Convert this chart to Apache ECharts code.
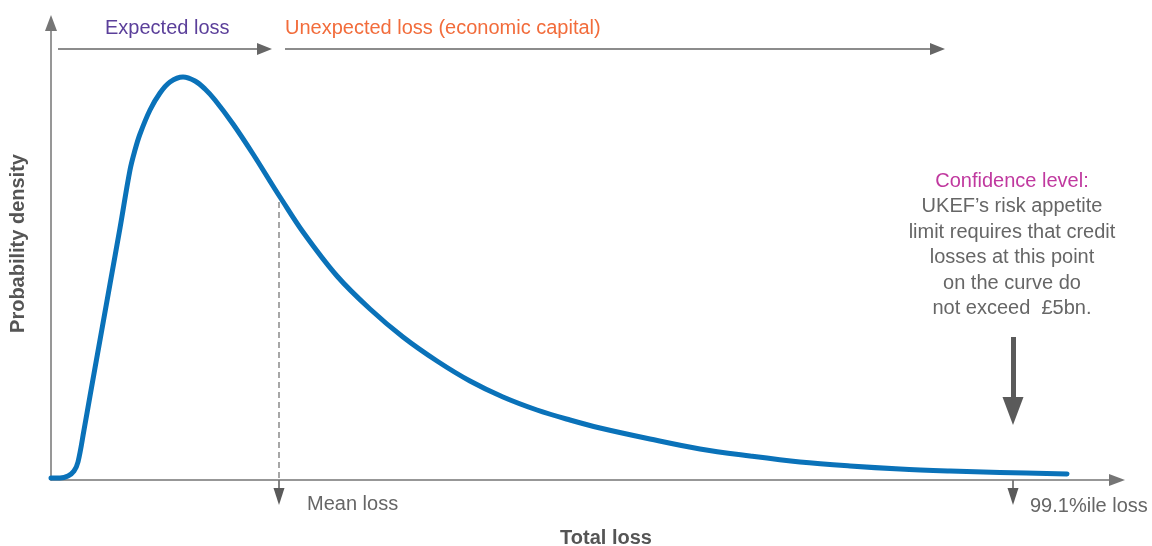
<!DOCTYPE html>
<html>
<head>
<meta charset="utf-8">
<script src="https://cdn.jsdelivr.net/npm/echarts@6/dist/echarts.min.js"></script>
<style>
  html, body { margin: 0; padding: 0; background: #ffffff; }
  #chart { width: 1152px; height: 546px; }
</style>
</head>
<body>
<div id="chart"></div>
<script>
// ---- data (arbitrary loss / density units) ----
const lossValues = [0, 9, 17, 23, 27, 33, 39, 49, 59, 69, 79, 84, 89, 99, 109, 119, 132, 144, 154, 164, 182, 202, 222, 229, 252, 286, 319, 352, 386, 419, 452, 486, 519, 549, 599, 649, 699, 749, 799, 849, 899, 949, 1016];
const densityValues = [2, 2, 4, 9, 18, 50, 84, 140, 196, 252, 310, 330, 346, 370, 387, 398, 403, 399, 391, 380, 356, 326, 294, 283, 248, 204, 171, 143, 119, 99, 83, 70, 60, 52, 41, 31, 24, 18, 14, 11, 9, 7.5, 6];
const meanLoss = 228;
const tailLoss = 962;             // 99.1%ile loss
const meanLossDensityTop = 278;   // where the dashed mean line starts
const expectedLossSpan = [7, 221];
const unexpectedLossSpan = [234, 894];
const spanArrowLevel = 431;
const bigArrowSpan = [143, 55];   // density range of the big pointer arrow (start, tip)
const axisMax = { loss: 1066, density: 457 };

const labels = {
  xName: 'Total loss',
  yName: 'Probability density',
  expected: 'Expected loss',
  unexpected: 'Unexpected loss (economic capital)',
  confTitle: 'Confidence level:',
  confBody: 'UKEF\u2019s risk appetite\nlimit requires that credit\nlosses at this point\non the curve do\nnot exceed  \u00a35bn.',
  mean: 'Mean loss',
  tail: '99.1%ile loss'
};

const FONT = '"Liberation Sans", Arial, Helvetica, sans-serif';
const GREY = '#666666';
const AXIS = '#757575';

const seriesData = lossValues.map((x, i) => [x, densityValues[i]]);

const chart = echarts.init(document.getElementById('chart'), null, { renderer: 'canvas' });

const headTop = [12, 15];
const headBig = [21, 28];

const option = {
  animation: false,
  grid: { left: 51, right: 35, top: 23, bottom: 66, containLabel: false, outerBoundsMode: 'none' },
  xAxis: {
    type: 'value', min: 0, max: axisMax.loss,
    axisLine: { show: true, onZero: true, symbol: ['none', 'triangle'], symbolSize: [12, 16], lineStyle: { color: AXIS, width: 1.5 } },
    axisTick: { show: false }, axisLabel: { show: false }, splitLine: { show: false },
    name: labels.xName, nameLocation: 'middle', nameGap: 48,
    nameTextStyle: { fontFamily: FONT, fontSize: 20, fontWeight: 'bold', color: '#555555', padding: [0, 0, 0, 44] }
  },
  yAxis: {
    type: 'value', min: 0, max: axisMax.density,
    axisLine: { show: true, symbol: ['none', 'triangle'], symbolSize: [12, 16], lineStyle: { color: AXIS, width: 1.5 } },
    axisTick: { show: false }, axisLabel: { show: false }, splitLine: { show: false },
    name: labels.yName, nameLocation: 'middle', nameGap: 23, nameRotate: 90,
    nameTextStyle: { fontFamily: FONT, fontSize: 20, fontWeight: 'bold', color: '#555555', padding: [0, 0, 0, 16] }
  },
  series: [{
    type: 'line',
    data: seriesData,
    smooth: 0.35,
    showSymbol: false,
    symbol: 'none',
    silent: true,
    lineStyle: { color: '#0a72b9', width: 5, cap: 'round', join: 'round' },
    z: 3,
    markLine: {
      silent: true,
      animation: false,
      label: { show: false },
      emphasis: { disabled: true },
      symbol: ['none', 'triangle'],
      data: [
        [
          { coord: [meanLoss, meanLossDensityTop], symbol: 'none', lineStyle: { color: '#8a8a8a', width: 1.5, type: [6, 4] } },
          { coord: [meanLoss, 0], symbol: 'none' }
        ],
        [
          { coord: [expectedLossSpan[0], spanArrowLevel], symbol: 'none', lineStyle: { color: GREY, width: 1.5, type: 'solid' } },
          { coord: [expectedLossSpan[1] - headTop[1] / 2, spanArrowLevel], symbol: 'triangle', symbolSize: headTop }
        ],
        [
          { coord: [unexpectedLossSpan[0], spanArrowLevel], symbol: 'none', lineStyle: { color: GREY, width: 1.5, type: 'solid' } },
          { coord: [unexpectedLossSpan[1] - headTop[1] / 2, spanArrowLevel], symbol: 'triangle', symbolSize: headTop }
        ],
        [
          { coord: [tailLoss, bigArrowSpan[0]], symbol: 'none', lineStyle: { color: '#5a5a5a', width: 5, type: 'solid' } },
          { coord: [tailLoss, bigArrowSpan[1] + headBig[1] / 2], symbol: 'triangle', symbolSize: headBig }
        ]
      ]
    }
  }]
};

chart.setOption(option);

// annotations positioned through the chart's own scales
function px(x, y) { return chart.convertToPixel({ gridIndex: 0 }, [x, y]); }
function downTick(xVal) {
  const p = px(xVal, 0);
  return [
    { type: 'line', silent: true, shape: { x1: p[0], y1: p[1], x2: p[0], y2: p[1] + 10 }, style: { stroke: '#5a5a5a', lineWidth: 1.5 } },
    { type: 'polygon', silent: true, shape: { points: [[p[0] - 5.5, p[1] + 8], [p[0] + 5.5, p[1] + 8], [p[0], p[1] + 25]] }, style: { fill: '#5a5a5a' } }
  ];
}
const pMean = px(meanLoss, 0);
const pTail = px(tailLoss, 0);
const pSpanA = px(expectedLossSpan[0], spanArrowLevel);
const pSpanB = px(unexpectedLossSpan[0], spanArrowLevel);
const pBig = px(tailLoss, bigArrowSpan[0]);

const textBase = { fontFamily: FONT, fontSize: 20 };
chart.setOption({
  graphic: [].concat(
    downTick(meanLoss),
    downTick(tailLoss),
    [
      { type: 'text', silent: true, x: pSpanA[0] + 47, y: pSpanA[1] - 21,
        style: Object.assign({ text: labels.expected, fill: '#5b3f9a', textVerticalAlign: 'middle' }, textBase) },
      { type: 'text', silent: true, x: pSpanB[0], y: pSpanB[1] - 21,
        style: Object.assign({ text: labels.unexpected, fill: '#f26c3b', textVerticalAlign: 'middle' }, textBase) },
      { type: 'text', silent: true, x: pBig[0] - 1, y: pBig[1] - 156,
        style: Object.assign({ text: labels.confTitle, fill: '#c0399f', textAlign: 'center', textVerticalAlign: 'middle' }, textBase) },
      { type: 'text', silent: true, x: pBig[0] - 1, y: pBig[1] - 143,
        style: Object.assign({ text: labels.confBody, fill: GREY, textAlign: 'center', textVerticalAlign: 'top', lineHeight: 25.5 }, textBase) },
      { type: 'text', silent: true, x: pMean[0] + 28, y: pMean[1] + 24,
        style: Object.assign({ text: labels.mean, fill: GREY, textVerticalAlign: 'middle' }, textBase) },
      { type: 'text', silent: true, x: pTail[0] + 17, y: pTail[1] + 26,
        style: Object.assign({ text: labels.tail, fill: GREY, textVerticalAlign: 'middle' }, textBase) }
    ]
  )
});
</script>
</body>
</html>
